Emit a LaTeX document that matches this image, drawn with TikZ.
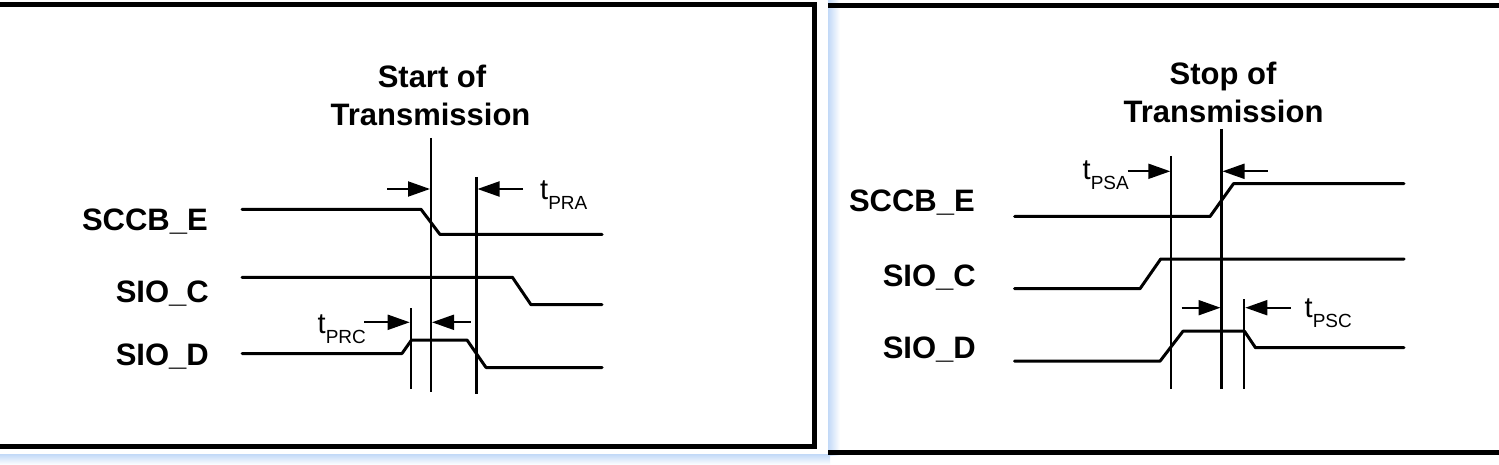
\documentclass[tikz,border=0pt]{standalone}
\usepackage{fontspec}
\setmainfont{Liberation Sans}
\definecolor{FrameBlue}{rgb}{0.76,0.85,0.97}
\usetikzlibrary{arrows.meta, positioning, calc}
\newcommand{\tsub}[2]{{\fontsize{29}{29}\selectfont #1}\raisebox{-10pt}{\fontsize{19}{19}\selectfont #2}}

\begin{document}
\begin{tikzpicture}[x=1pt, y=-1pt,
    sig/.style={line width=3pt, line join=round, line cap=round},
    vline/.style={line width=2.2pt},
    tarr/.style={line width=2pt, shorten >=1pt, -{Triangle[length=22pt,width=15pt]}},
    frame/.style={line width=5pt, line join=miter},
    lbl/.style={font=\fontsize{31}{36}\selectfont\bfseries, anchor=base east, inner sep=0pt},
    ttl/.style={font=\fontsize{31}{36}\selectfont\bfseries, anchor=base, inner sep=0pt},
    tlbl/.style={anchor=base west, inner sep=0pt}]
    \useasboundingbox (0,0) rectangle (1499,465);
    \fill[white] (0,0) rectangle (1499,465);
    % shadow of the panels
    \shade[top color=FrameBlue, bottom color=white] (0,454) rectangle (830,465);
    \shade[left color=FrameBlue, right color=white] (828,0) rectangle (840,455);
    % panel frames
    \draw[frame] (-5,4.5) -- (814.5,4.5) -- (814.5,446.5) -- (-5,446.5);
    \draw[frame] (828,5.5) -- (1505,5.5);
    \draw[frame] (828,452.5) -- (1505,452.5);

    % ---- start of transmission
    \node[ttl] (startA) at (432,87.3) {Start of};
    \node[ttl] (startB) at (430.5,126) {Transmission};
    \node[lbl] (sccbL) at (208,230) {SCCB\_E};
    \node[lbl] (siocL) at (209,302) {SIO\_C};
    \node[lbl] (siodL) at (209,365) {SIO\_D};
    \draw[sig] (242,209.3) -- (421,209.3) -- (440,234.5) -- (602,234.5);
    \draw[sig] (242,277.3) -- (512.4,277.3) -- (531,304.7) -- (602,304.7);
    \draw[sig] (242,353.5) -- (402,353.5) -- (411.5,340) -- (467,340) -- (486,367.5) -- (602,367.5);
    \coordinate (mainL) at (431,138);
    \coordinate (praL) at (476.5,177);
    \coordinate (prcL) at (410.7,308);
    \draw[vline] (mainL) -- ++(0,254);
    \draw[vline] (praL) -- ++(0,217);
    \draw[vline] (prcL) -- ++(0,81);
    \coordinate (praA) at (387,189);
    \coordinate (praB) at (523,189);
    \coordinate (prcA) at (364,322.3);
    \coordinate (prcB) at (470.7,322.3);
    \draw[tarr] (praA) -- (praA -| mainL);
    \draw[tarr] (praB) -- (praB -| praL);
    \draw[tarr] (prcA) -- (prcA -| prcL);
    \draw[tarr] (prcB) -- (prcB -| mainL);
    \node[tlbl] (tpra) at (540,200) {\tsub{t}{PRA}};
    \node[tlbl] (tprc) at (317.5,333.3) {\tsub{t}{PRC}};

    % ---- stop of transmission
    \node[ttl] (stopA) at (1223,85) {Stop of};
    \node[ttl] (stopB) at (1223.5,122.7) {Transmission};
    \node[lbl] (sccbR) at (975,211.7) {SCCB\_E};
    \node[lbl] (siocR) at (976,286) {SIO\_C};
    \node[lbl] (siodR) at (976,358.3) {SIO\_D};
    \draw[sig] (1014.5,216.5) -- (1210,216.5) -- (1233.5,183.7) -- (1404,183.7);
    \draw[sig] (1014.5,288.7) -- (1140,288.7) -- (1160.7,259) -- (1404,259);
    \draw[sig] (1014.5,361.2) -- (1160,361.2) -- (1183,331.2) -- (1244.4,331.2) -- (1255.5,347.7) -- (1404,347.7);
    \coordinate (psaR) at (1171.3,156);
    \coordinate (mainR) at (1221.5,129);
    \coordinate (pscR) at (1244.3,299.3);
    \draw[vline] (psaR) -- ++(0,233.3);
    \draw[vline] (mainR) -- ++(0,260.3);
    \draw[vline] (pscR) -- ++(0,90);
    \coordinate (psaA) at (1127.5,171.3);
    \coordinate (psaB) at (1267.5,171.3);
    \coordinate (pscA) at (1181.7,307.7);
    \coordinate (pscB) at (1290.7,307.7);
    \draw[tarr] (psaA) -- (psaA -| psaR);
    \draw[tarr] (psaB) -- (psaB -| mainR);
    \draw[tarr] (pscA) -- (pscA -| mainR);
    \draw[tarr] (pscB) -- (pscB -| pscR);
    \node[tlbl] (tpsa) at (1082.5,180) {\tsub{t}{PSA}};
    \node[tlbl] (tpsc) at (1304.5,317) {\tsub{t}{PSC}};
\end{tikzpicture}
\end{document}
